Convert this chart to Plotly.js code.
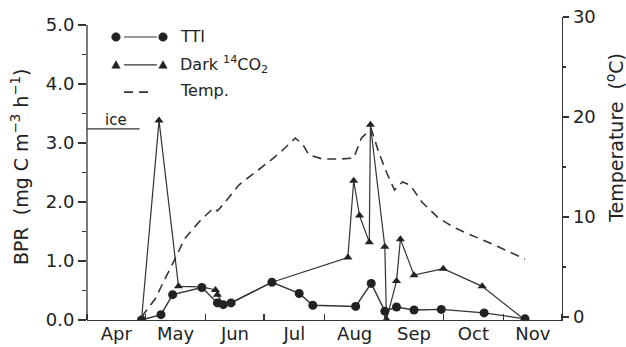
<!DOCTYPE html>
<html>
<head>
<meta charset="utf-8">
<script src="https://cdn.plot.ly/plotly-3.0.1.min.js"></script>
<style>
  html, body { margin: 0; padding: 0; background: #fff; }
  #chart { width: 626px; height: 347px; }
</style>
</head>
<body>
<div id="chart"></div>
<script>
// ---- Data ----
const ttiDates = ['1985-04-29','1985-05-09','1985-05-15','1985-05-30','1985-06-07','1985-06-10','1985-06-14','1985-07-05','1985-07-19','1985-07-26','1985-08-17','1985-08-25','1985-09-01','1985-09-07','1985-09-16','1985-09-30','1985-10-22','1985-11-12'];
const ttiBPR   = [0.0, 0.09, 0.43, 0.55, 0.29, 0.26, 0.29, 0.64, 0.45, 0.25, 0.23, 0.62, 0.15, 0.22, 0.17, 0.18, 0.12, 0.02];

const darkDates = ['1985-04-29','1985-05-08','1985-05-18','1985-05-30','1985-06-06','1985-06-07','1985-06-10','1985-06-14','1985-07-05','1985-08-13','1985-08-16','1985-08-19','1985-08-24','1985-08-24 14:00','1985-09-01','1985-09-01 20:00','1985-09-07','1985-09-09','1985-09-16','1985-10-01','1985-10-21','1985-11-12'];
const darkBPR   = [0.0, 3.38, 0.57, 0.56, 0.51, 0.43, 0.26, 0.29, 0.64, 1.06, 2.36, 1.77, 1.32, 3.31, 1.24, 0.01, 0.66, 1.37, 0.76, 0.87, 0.57, 0.0];

const tempDates = ['1985-04-29','1985-05-06','1985-05-11','1985-05-17','1985-05-21','1985-05-29','1985-06-05','1985-06-07','1985-06-11','1985-06-18','1985-06-28','1985-07-09','1985-07-17','1985-07-21','1985-07-24','1985-07-31','1985-08-09','1985-08-16','1985-08-20','1985-08-25','1985-08-29','1985-09-02','1985-09-06','1985-09-10','1985-09-14','1985-09-20','1985-09-28','1985-10-06','1985-10-14','1985-10-25','1985-11-12'];
const tempC     = [0, 1.8, 3.8, 6.1, 7.8, 9.6, 10.9, 10.6, 11.5, 13.2, 14.7, 16.4, 17.9, 17.2, 16.2, 15.8, 15.8, 15.9, 17.9, 18.8, 16.4, 14.4, 12.7, 13.5, 13.2, 11.5, 10.0, 9.0, 8.3, 7.4, 5.8];

const iceStart = '1985-04-01';
const iceEnd   = '1985-04-28';
const iceLevel = 3.24;

const seriesNames = ['TTI', 'Dark <sup>14</sup>CO<sub>2</sub>', 'Temp.'];
const xRange = ['1985-04-01', '1985-12-01'];

// ---- Styling ----
const INK = '#222';
const FONT = 'DejaVu Sans';

const traces = [
  {
    x: darkDates, y: darkBPR, type: 'scatter', mode: 'lines+markers',
    name: seriesNames[1],
    line: { color: '#333', width: 1.2 },
    marker: { symbol: 'triangle-up', size: 8, color: INK }
  },
  {
    x: ttiDates, y: ttiBPR, type: 'scatter', mode: 'lines+markers',
    name: seriesNames[0],
    line: { color: '#333', width: 1.4 },
    marker: { symbol: 'circle', size: 9, color: INK }
  },
  {
    x: tempDates, y: tempC, type: 'scatter', mode: 'lines', yaxis: 'y2',
    name: seriesNames[2],
    line: { color: '#333', width: 1.6, dash: '9px,6px' }
  }
];

// legend helper (paper coordinates)
const legX1 = 0.061, legX2 = 0.160, legTextX = 0.192;
const legY = [0.934, 0.842, 0.752];

function circleAt(x, y) {
  return { type: 'circle', xref: 'paper', yref: 'paper', xsizemode: 'pixel', ysizemode: 'pixel',
    xanchor: x, yanchor: y, x0: -4.3, x1: 4.3, y0: -4.3, y1: 4.3,
    fillcolor: INK, line: { color: INK, width: 0.5 } };
}
function triAt(x, y) {
  return { type: 'path', xref: 'paper', yref: 'paper', xsizemode: 'pixel', ysizemode: 'pixel',
    xanchor: x, yanchor: y, path: 'M -4.2 -3.4 L 4.2 -3.4 L 0 4.2 Z',
    fillcolor: INK, line: { color: INK, width: 0.5 } };
}
function segAt(x0, x1, y, dash, w) {
  return { type: 'line', xref: 'paper', yref: 'paper', x0: x0, x1: x1, y0: y, y1: y,
    line: { color: '#333', width: w || 1.2, dash: dash || 'solid' } };
}

const shapes = [
  // left axis line (from 0 to 5.0)
  { type: 'line', xref: 'paper', yref: 'y', x0: 0, x1: 0, y0: 0, y1: 5, line: { color: '#333', width: 1.3 } },
  // ice line
  { type: 'line', xref: 'x', yref: 'y', x0: iceStart, x1: iceEnd, y0: iceLevel, y1: iceLevel, line: { color: '#333', width: 1.2 } },
  // legend samples
  circleAt(legX1, legY[0]), circleAt(legX2, legY[0]), segAt(0.078, 0.147, legY[0]),
  triAt(legX1, legY[1]), triAt(legX2, legY[1]), segAt(0.078, 0.147, legY[1]),
  segAt(0.078, 0.138, legY[2], '9px,6px', 1.6)
];

const annotations = [
  { text: seriesNames[0], xref: 'paper', yref: 'paper', x: legTextX, y: legY[0], xanchor: 'left', yanchor: 'middle', showarrow: false, font: { family: FONT, size: 16, color: INK } },
  { text: seriesNames[1], xref: 'paper', yref: 'paper', x: legTextX, y: legY[1], xanchor: 'left', yanchor: 'middle', showarrow: false, font: { family: FONT, size: 16, color: INK } },
  { text: seriesNames[2], xref: 'paper', yref: 'paper', x: legTextX, y: legY[2] + 0.004, xanchor: 'left', yanchor: 'middle', showarrow: false, font: { family: FONT, size: 16, color: INK } },
  { text: 'ice', xref: 'paper', yref: 'paper', x: 0.061, y: 0.66, xanchor: 'center', yanchor: 'middle', showarrow: false, font: { family: FONT, size: 15, color: INK } },
  { text: 'BPR  (mg C m<sup>−3</sup> h<sup>−1</sup>)', xref: 'paper', yref: 'paper', x: -0.141, y: 0.505, xanchor: 'center', yanchor: 'middle', textangle: -90, showarrow: false, font: { family: FONT, size: 19, color: INK } },
  { text: 'Temperature  (<sup>o</sup>C)', xref: 'paper', yref: 'paper', x: 1.113, y: 0.60, xanchor: 'center', yanchor: 'middle', textangle: -90, showarrow: false, font: { family: FONT, size: 19, color: INK } }
];

const layout = {
  width: 626, height: 347,
  margin: { l: 87, r: 64, t: 17, b: 27, pad: 0 },
  paper_bgcolor: '#fff', plot_bgcolor: '#fff',
  showlegend: false,
  font: { family: FONT, size: 18, color: INK },
  xaxis: {
    type: 'date', range: xRange, tick0: '1985-04-01', dtick: 'M1', tickformat: '%b',
    ticklabelmode: 'period', ticks: 'inside', ticklen: 6, tickwidth: 1.3, tickcolor: '#333',
    ticklabelstandoff: -3,
    showline: true, linecolor: '#333', linewidth: 1.3, showgrid: false, zeroline: false,
    tickfont: { family: FONT, size: 18, color: INK }
  },
  yaxis: {
    range: [0, 5.136], tick0: 0, dtick: 1, tickformat: '.1f',
    ticks: 'outside', ticklen: 8, tickwidth: 1.3, tickcolor: '#333',
    minor: { dtick: 0.5, ticks: 'outside', ticklen: 4, tickwidth: 1.1, tickcolor: '#333' },
    showline: false, showgrid: false, zeroline: false,
    tickfont: { family: FONT, size: 18, color: INK }
  },
  yaxis2: {
    overlaying: 'y', side: 'right', anchor: 'x',
    range: [-0.3, 30], tick0: 0, dtick: 10,
    ticks: 'outside', ticklen: 6, tickwidth: 1.3, tickcolor: '#333',
    minor: { dtick: 5, ticks: 'outside', ticklen: 3, tickwidth: 1.1, tickcolor: '#333' },
    showline: true, linecolor: '#333', linewidth: 1.3, showgrid: false, zeroline: false,
    tickfont: { family: FONT, size: 18, color: INK }
  },
  shapes: shapes,
  annotations: annotations
};

Plotly.newPlot('chart', traces, layout, { staticPlot: true, displayModeBar: false });
</script>
</body>
</html>
